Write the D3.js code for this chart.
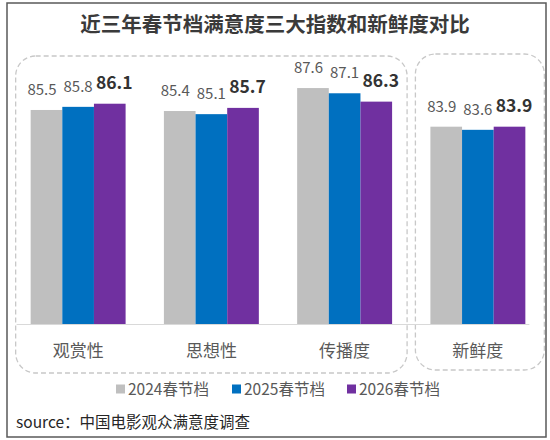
<!DOCTYPE html>
<html>
<head>
<meta charset="utf-8">
<script src="https://cdn.jsdelivr.net/npm/d3@7"></script>
<style>
  body { margin: 0; background: #fff; }
  text { font-family: "Noto Sans CJK SC", "Noto Sans", sans-serif; }
</style>
</head>
<body>
<div id="chart"></div>
<script>
// data
const categories = ['观赏性', '思想性', '传播度', '新鲜度'];
const years = ['2024春节档', '2025春节档', '2026春节档'];
const values2024 = [85.5, 85.4, 87.6, 83.9];
const values2025 = [85.8, 85.1, 87.1, 83.6];
const values2026 = [86.1, 85.7, 86.3, 83.9];
const groups = [['观赏性', '思想性', '传播度'], ['新鲜度']];

const title = '近三年春节档满意度三大指数和新鲜度对比';
const source = 'source：中国电影观众满意度调查';

const width = 550;
const height = 440;
const colors = ['#bfbfbf', '#0070c0', '#7030a0'];
const series = [values2024, values2025, values2026];

const svg = d3.select('#chart')
  .append('svg')
  .attr('width', width)
  .attr('height', height);

// outer frame
svg.append('rect')
  .attr('x', 7)
  .attr('y', 3)
  .attr('width', 539)
  .attr('height', 434)
  .attr('fill', 'none')
  .attr('stroke', '#595959')
  .attr('stroke-width', 1.5);

svg.append('text')
  .attr('x', width / 2)
  .attr('y', 32)
  .attr('text-anchor', 'middle')
  .attr('font-size', 20.5)
  .attr('font-weight', 'bold')
  .attr('fill', '#3a3a3a')
  .text(title);

// scales
const x = d3.scaleBand()
  .domain(categories)
  .range([14, 542])
  .paddingInner(0.2875)
  .paddingOuter(0.125);

const xInner = d3.scaleBand()
  .domain(years)
  .range([0, x.bandwidth()]);

const y = d3.scaleLinear()
  .domain([65, 90])
  .range([324, 63]);

// dashed group boxes
groups.forEach(function (group, i) {
  let left = x(group[0]) - 15;
  let right = x(group[group.length - 1]) + x.bandwidth() + (i === 0 ? 15 : 19);
  svg.append('rect')
    .attr('x', left)
    .attr('y', i === 0 ? 56 : 54)
    .attr('width', right - left)
    .attr('height', i === 0 ? 317 : 316)
    .attr('rx', 20)
    .attr('ry', 20)
    .attr('fill', 'none')
    .attr('stroke', '#c8c8c8')
    .attr('stroke-width', 1.3)
    .attr('stroke-dasharray', '5,3');
});

// bars
const rows = categories.map((c, ci) => ({
  category: c,
  items: years.map((yr, yi) => ({year: yr, index: yi, value: series[yi][ci]}))
}));

const groupSel = svg.append('g')
  .selectAll('g')
  .data(rows)
  .enter()
  .append('g')
  .attr('transform', d => `translate(${x(d.category)},0)`);

groupSel.selectAll('rect')
  .data(d => d.items)
  .enter()
  .append('rect')
  .attr('x', d => xInner(d.year))
  .attr('y', d => y(d.value))
  .attr('width', xInner.bandwidth())
  .attr('height', d => y(65) - y(d.value))
  .attr('fill', d => colors[d.index]);

groupSel.selectAll('text')
  .data(d => d.items)
  .enter()
  .append('text')
  .attr('x', d => xInner(d.year) + xInner.bandwidth() / 2 + (d.index - 1) * 4.5)
  .attr('y', d => y(d.value) - 15)
  .attr('text-anchor', 'middle')
  .attr('font-size', d => d.index === 2 ? 17.5 : 15)
  .attr('font-weight', d => d.index === 2 ? 'bold' : 'normal')
  .attr('fill', d => d.index === 2 ? '#333' : '#595959')
  .text(d => d.value.toFixed(1));

// baseline + category labels
svg.append('line')
  .attr('x1', x(categories[0]) - 14)
  .attr('x2', x(categories[categories.length - 1]) + x.bandwidth() + 4)
  .attr('y1', y(65) + 0.5)
  .attr('y2', y(65) + 0.5)
  .attr('stroke', '#d9d9d9')
  .attr('stroke-width', 1);

const axis = svg.append('g')
  .attr('transform', `translate(0,${y(65)})`)
  .call(d3.axisBottom(x).tickSize(0).tickPadding(21));
axis.select('.domain').remove();
axis.selectAll('text')
  .attr('font-size', 17)
  .attr('fill', '#595959')
  .style('font-family', '"Noto Sans CJK SC", sans-serif');

// legend
const legendX = [116, 232, 347];
const legend = svg.append('g')
  .selectAll('g')
  .data(years)
  .enter()
  .append('g')
  .attr('transform', (d, i) => `translate(${legendX[i]},389)`);

legend.append('rect')
  .attr('x', 0)
  .attr('y', -4.5)
  .attr('width', 9)
  .attr('height', 9)
  .attr('fill', (d, i) => colors[i]);

legend.append('text')
  .attr('x', 12)
  .attr('y', 5.5)
  .attr('font-size', 15.5)
  .attr('fill', '#595959')
  .text(d => d);

svg.append('text')
  .attr('x', 16)
  .attr('y', 428)
  .attr('font-size', 15.5)
  .attr('fill', '#262626')
  .text(source);
</script>
</body>
</html>
